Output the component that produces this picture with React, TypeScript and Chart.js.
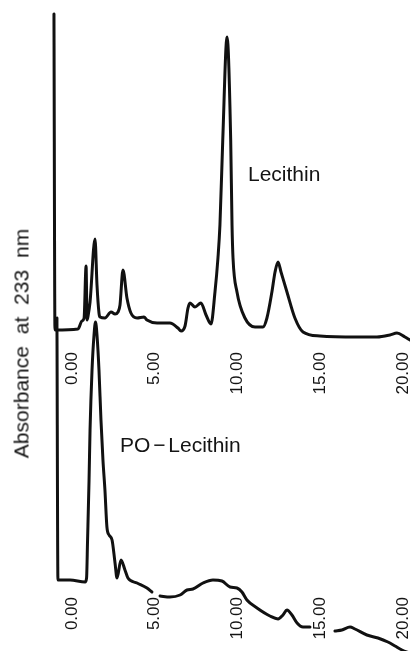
import React, { useEffect, useRef } from "react";
import { Chart, registerables } from "chart.js";

Chart.register(...registerables);

// Retention time axis (min)
const tickValues = [0, 5, 10, 15, 20];
const X_MIN = -1.33;
const X_MAX = 21.03;

// Upper trace: Lecithin
const lecithinTime = [
  -1.09, -1.03, 0.36, 0.6, 0.73, 0.85, 0.91, 0.97, 1.09, 1.39, 1.51, 1.63, 1.69, 1.99, 2.36, 2.6, 2.78, 2.9,
  3.08, 3.32, 3.56, 3.93, 4.35, 4.53, 5.14, 5.92, 6.4, 6.59, 6.83, 7.01, 7.13, 7.43, 7.79, 8.1, 8.4, 8.64,
  8.82, 8.94, 9.11, 9.37, 9.59, 9.67, 9.73, 9.97, 10.45, 11.06, 11.54, 11.78, 12.08, 12.27, 12.45, 12.63,
  12.99, 13.47, 13.96, 14.98, 17.22, 18.43, 19.21, 19.64, 20.12, 20.42,
];
const lecithinSignal = [
  31.6, 0, 0.1, 0.9, 1.2, 6.4, 1.0, 1.4, 2.8, 9.1, 4.5, 1.7, 1.3, 1.2, 1.8, 1.6, 1.8, 2.5,
  6.0, 3.2, 1.7, 1.2, 1.3, 1.0, 0.7, 0.7, 0.2, -0.1, 0.4, 2.2, 2.7, 2.3, 2.7, 1.5, 0.6, 3.8,
  7.2, 10.5, 19.0, 29.3, 19.0, 10.5, 7.2, 3.8, 1.2, 0.3, 0.3, 1.2, 3.8, 5.8, 6.8, 5.8,
  3.8, 1.2, -0.2, -0.6, -0.7, -0.7, -0.5, -0.3, -0.7, -1.0,
];

// Lower trace: PO-Lecithin (null = break in the recorded trace)
const poTime = [
  -0.91, -0.85, -0.12, 0.79, 0.88, 0.94, 1.03, 1.09, 1.21, 1.33, 1.42, 1.51, 1.63, 1.75, 1.87, 1.99, 2.11,
  2.24, 2.42, 2.6, 2.72, 2.96, 3.2, 3.38, 3.93, 4.53, 4.83, 5.08, 5.32, 5.92, 6.53, 6.95, 7.31, 7.92, 8.52,
  9.06, 9.55, 9.97, 10.27, 10.57, 11.18, 11.96, 12.45, 12.75, 12.99, 13.29, 13.6, 13.96, 14.38, 15.11,
  15.89, 16.31, 16.8, 17.1, 17.82, 18.49, 19.09, 19.52, 19.94, 20.42,
];
const poSignal = [
  26.2, 0, 0, -0.2, 0.2, 4.0, 10.0, 15.0, 21.0, 24.5, 25.8, 24.5, 21.0, 16.0, 12.0, 9.0, 5.3,
  4.5, 4.0, 1.7, 0.2, 2.0, 1.0, 0.2, -0.3, -0.8, -1.2, null, -1.6, -1.7, -1.5, -1.0, -0.9, -0.3, 0,
  -0.1, -0.7, -0.8, -1.2, -2.0, -2.8, -3.6, -3.9, -3.5, -3.0, -3.5, -4.3, -4.7, -4.7, null,
  -5.1, -5.0, -4.7, -4.9, -5.5, -5.8, -6.2, -6.6, -7.0, -7.3,
];

const axisTitle = "Absorbance at 233 nm";
const topLabel = "Lecithin";
const bottomLabel = "PO − Lecithin";

const FONT = "'Liberation Sans', Arial, Helvetica, sans-serif";
const INK = "#111111";

function makeConfig(time: number[], signal: (number | null)[], yMin: number, yMax: number, pad: any): any {
  return {
    type: "line",
    data: {
      datasets: [
        {
          data: time.map((t, i) => ({ x: t, y: signal[i] })),
          borderColor: INK,
          borderWidth: 3,
          pointRadius: 0,
          fill: false,
          cubicInterpolationMode: "monotone",
          spanGaps: false,
          clip: false,
          borderJoinStyle: "round",
          borderCapStyle: "round",
        },
      ],
    },
    options: {
      responsive: false,
      animation: false,
      events: [],
      layout: { padding: pad },
      plugins: { legend: { display: false }, tooltip: { enabled: false }, title: { display: false } },
      scales: {
        x: {
          type: "linear",
          min: X_MIN,
          max: X_MAX,
          grid: { display: false, drawTicks: false },
          border: { display: false },
          afterBuildTicks: (s: any) => {
            s.ticks = tickValues.map((v) => ({ value: v }));
          },
          afterFit: (s: any) => {
            s.height = 48;
          },
          ticks: {
            minRotation: 90,
            maxRotation: 90,
            autoSkip: false,
            padding: 0,
            color: "#141414",
            font: { family: FONT, size: 17 },
            callback: (v: any) => Number(v).toFixed(2),
          },
        },
        y: { display: false, min: yMin, max: yMax },
      },
    },
  };
}

function TraceChart(props: {
  time: number[];
  signal: (number | null)[];
  yMin: number;
  yMax: number;
  pad: any;
  top: number;
  height: number;
}) {
  const ref = useRef<HTMLCanvasElement | null>(null);
  useEffect(() => {
    if (!ref.current) return;
    const chart = new Chart(ref.current, makeConfig(props.time, props.signal, props.yMin, props.yMax, props.pad));
    return () => chart.destroy();
  }, []);
  return (
    <canvas
      ref={ref}
      width={445}
      height={props.height}
      style={{ position: "absolute", left: 0, top: props.top, width: 445, height: props.height }}
    />
  );
}

export default function App() {
  const textStyle: any = {
    position: "absolute",
    fontFamily: FONT,
    fontSize: 21,
    lineHeight: "21px",
    color: "#141414",
    whiteSpace: "pre",
  };
  return (
    <div
      style={{
        position: "absolute",
        left: 0,
        top: 0,
        width: 410,
        height: 651,
        overflow: "hidden",
        background: "#ffffff",
      }}
    >
      <TraceChart
        time={lecithinTime}
        signal={lecithinSignal}
        yMin={-2.2}
        yMax={32.0}
        pad={{ left: 50, right: 25, top: 10, bottom: 0 }}
        top={0}
        height={400}
      />
      <TraceChart
        time={poTime}
        signal={poSignal}
        yMin={-1.7}
        yMax={27.0}
        pad={{ left: 50, right: 25, top: 10, bottom: 15 }}
        top={300}
        height={360}
      />
      <div style={{ ...textStyle, left: 248, top: 163 }}>{topLabel}</div>
      <div style={{ ...textStyle, left: 120, top: 434, wordSpacing: -3 }}>{bottomLabel}</div>
      <div
        style={{
          ...textStyle,
          left: 20.5 - 130,
          top: 343.5 - 10.5,
          width: 260,
          textAlign: "center",
          wordSpacing: 6,
          transform: "rotate(-90deg)",
        }}
      >
        {axisTitle}
      </div>
    </div>
  );
}
